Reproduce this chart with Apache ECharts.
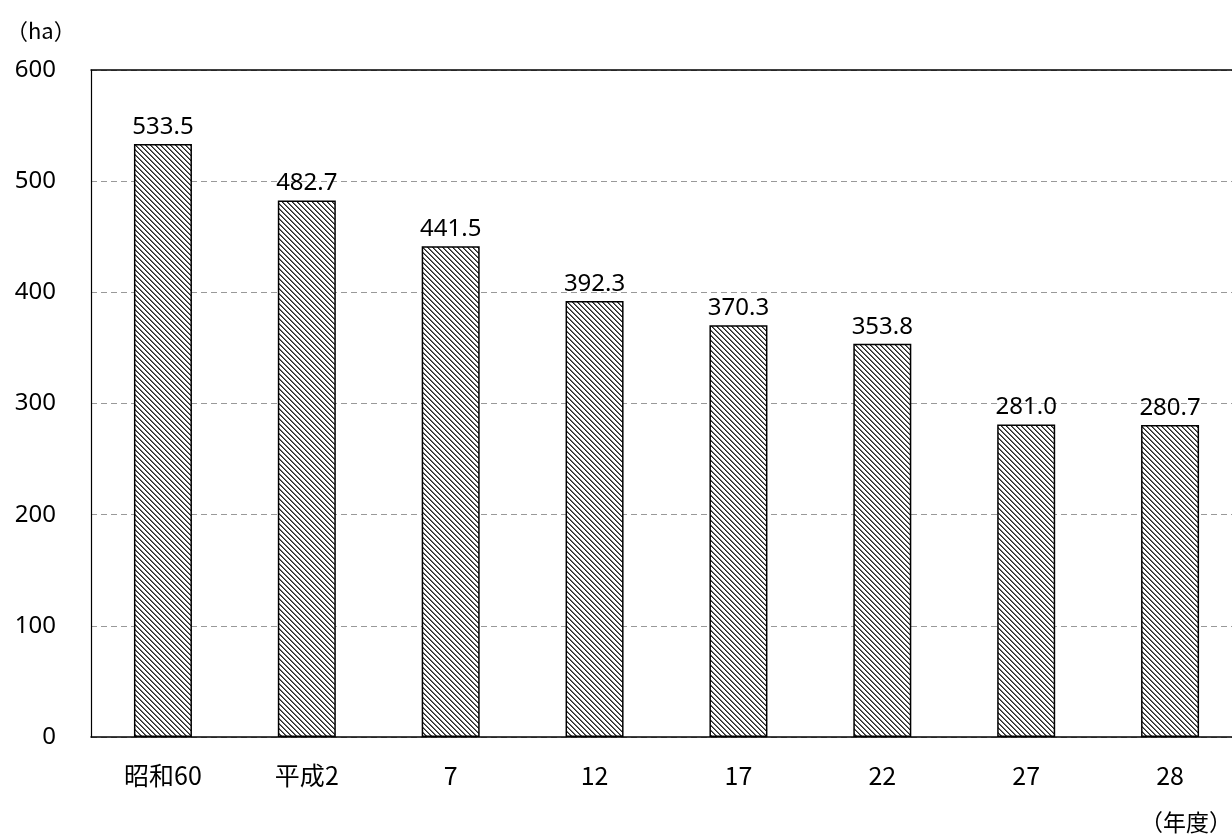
<!DOCTYPE html>
<html><head><meta charset="utf-8">
<script src="https://cdn.jsdelivr.net/npm/echarts@6/dist/echarts.min.js"></script>
<style>html,body{margin:0;padding:0;background:#fff}#c{width:1232px;height:836px}</style>
</head><body><div id="c"></div>
<script>
const categories = ['昭和60', '平成2', '7', '12', '17', '22', '27', '28'];
const values = [533.5, 482.7, 441.5, 392.3, 370.3, 353.8, 281.0, 280.7];
const yTicks = [0, 100, 200, 300, 400, 500, 600];

function hatch() {
  const s = 5, c = document.createElement('canvas');
  c.width = s; c.height = s;
  const ctx = c.getContext('2d');
  const img = ctx.createImageData(s, s);
  for (let y = 0; y < s; y++) for (let x = 0; x < s; x++) {
    const d = ((x - y) % s + s) % s;
    const v = d === 0 ? 40 : (d === 1 ? 110 : 255);
    const i = (y * s + x) * 4;
    img.data[i] = v; img.data[i+1] = v; img.data[i+2] = v; img.data[i+3] = 255;
  }
  ctx.putImageData(img, 0, 0);
  return c;
}

const font = '"Noto Sans", "Noto Sans CJK JP", sans-serif';
const cjk = '"Noto Sans CJK JP", sans-serif';
const chart = echarts.init(document.getElementById('c'), null, {renderer: 'canvas'});
chart.setOption({
  animation: false,
  backgroundColor: '#fff',
  grid: {left: 91, top: 70, height: 667, width: 1151, containLabel: false, outerBoundsMode: 'none'},
  xAxis: [{
    type: 'category', data: categories, position: 'bottom',
    axisLine: {lineStyle: {color: '#000', width: 1.5}},
    axisTick: {show: false},
    axisLabel: {color: '#000', fontSize: 25, fontFamily: cjk, margin: 26}
  }, {
    type: 'category', data: categories, position: 'top',
    axisLine: {show: true, lineStyle: {color: '#000', width: 1.5}},
    axisTick: {show: false}, axisLabel: {show: false}
  }],
  yAxis: {
    type: 'value', min: 0, max: 600, interval: 100,
    axisLine: {show: true, lineStyle: {color: '#000', width: 1.2}},
    axisTick: {show: false},
    axisLabel: {color: '#000', fontSize: 24, fontFamily: font, margin: 35,
      formatter: v => yTicks.includes(v) ? String(v) : ''},
    splitLine: {lineStyle: {color: '#999', type: [6, 4], width: 1.2}}
  },
  series: [{
    type: 'bar', data: values, barWidth: 58, xAxisIndex: 0,
    itemStyle: {color: {image: hatch(), repeat: 'repeat'}, borderColor: '#000', borderWidth: 1.5},
    label: {show: true, position: 'top', distance: 5, color: '#000', fontSize: 24, fontFamily: font,
      formatter: p => p.value.toFixed(1)}
  }],
  graphic: [
    {type: 'text', left: 6, top: 20, style: {text: '（ha）', fontSize: 22, fontFamily: cjk, fill: '#000'}},
    {type: 'text', left: 1140, top: 811, style: {text: '（年度）', fontSize: 23, fontFamily: cjk, fill: '#000'}}
  ]
});
</script></body></html>
